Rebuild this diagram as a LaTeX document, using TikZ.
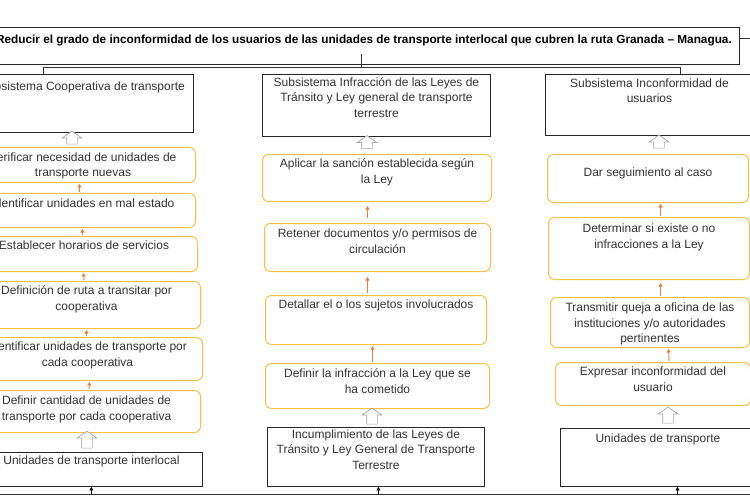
\documentclass[tikz,border=0pt]{standalone}
\usepackage{fontspec}
\setmainfont{Liberation Sans}
\usetikzlibrary{arrows.meta, shapes.arrows, calc}

\definecolor{boxyellow}{HTML}{F7C244}
\definecolor{arroworange}{HTML}{ED7D31}
\definecolor{hollowgray}{HTML}{A6A6A6}
\definecolor{txtgray}{HTML}{333333}

% text set at the top of a fixed-size box
\newcommand{\tb}[4][13pt]{\parbox[c][#3][t]{#2}{\centering\rule{0pt}{#1}#4\par}}

\begin{document}
\begin{tikzpicture}[
        x=1pt, y=-1pt,
        font=\fontsize{12}{15.5}\selectfont,
        text=txtgray,
        blackbox/.style={draw=black!85, line width=0.9pt, inner sep=0pt, anchor=north west},
        ybox/.style={draw=boxyellow, line width=1pt, rounded corners=6pt, inner sep=0pt, anchor=north west},
        hollow/.style={single arrow, rotate=90, draw=hollowgray, fill=white, line width=0.7pt,
            inner xsep=0pt, inner ysep=5pt, minimum width=19pt, minimum height=#1,
            single arrow head extend=4.5pt, single arrow tip angle=110},
        oarr/.style={-{Triangle[length=3.5pt,width=4pt]}, draw=arroworange, line width=0.9pt,
            shorten <=1pt, shorten >=1pt},
        barr/.style={-{Triangle[length=3.5pt,width=4pt]}, line width=0.8pt},
        bus/.style={draw=black!80, line width=0.8pt}
    ]
        \useasboundingbox (0,0) rectangle (750,500);
        \clip (0,0) rectangle (750,500);

        % goal
        \node[blackbox] (goal) at (-12,27) {\tb[16pt]{751pt}{37pt}{\fontsize{11.8}{14}\selectfont\bfseries\color{black}Reducir el grado de inconformidad de los usuarios de las unidades de transporte interlocal que cubren la ruta Granada -- Managua.}};

        % subsystems
        \node[blackbox] (coop) at (-29,74) {\tb[16pt]{222pt}{58pt}{Subsistema Cooperativa de transporte}};
        \node[blackbox] (infr) at (262,74) {\tb[12pt]{228pt}{62pt}{Subsistema Infracción de las Leyes de\\ Tránsito y Ley general de transporte\\ terrestre}};
        \node[blackbox] (inco) at (545,74) {\tb[13pt]{208pt}{61pt}{Subsistema Inconformidad de\\ usuarios}};

        % cooperativa
        \node[ybox] (verif) at (-30,147) {\tb[14pt]{225pt}{35pt}{Verificar necesidad de unidades de\\ transporte nuevas}};
        \node[ybox] (malest) at (-30,193) {\tb[14pt]{225pt}{34pt}{Identificar unidades en mal estado}};
        \node[ybox] (horar) at (-30,236) {\tb[13pt]{227pt}{35pt}{Establecer horarios de servicios}};
        \node[ybox] (ruta) at (-28,281) {\tb[13pt]{228pt}{47pt}{Definición de ruta a transitar por\\ cooperativa}};
        \node[ybox] (idcoop) at (-28,337) {\tb[13pt]{230pt}{43pt}{Identificar unidades de transporte por\\ cada cooperativa}};
        \node[ybox] (cant) at (-28,390) {\tb[14pt]{228pt}{42pt}{Definir cantidad de unidades de\\ transporte por cada cooperativa}};
        \node[blackbox] (interl) at (-20,452) {\tb[12pt]{222pt}{34pt}{Unidades de transporte interlocal}};

        % infraccion
        \node[ybox] (sanc) at (262,154) {\tb[13pt]{229pt}{47pt}{Aplicar la sanción establecida según\\ la Ley}};
        \node[ybox] (reten) at (264,223) {\tb[14pt]{226pt}{48pt}{Retener documentos y/o permisos de\\ circulación}};
        \node[ybox] (sujet) at (265,295) {\tb[13pt]{221pt}{49pt}{Detallar el o los sujetos involucrados}};
        \node[ybox] (defin) at (265,363) {\tb[14pt]{224pt}{45pt}{Definir la infracción a la Ley que se\\ ha cometido}};
        \node[blackbox] (incum) at (267,427) {\tb[11pt]{217pt}{59pt}{Incumplimiento de las Leyes de\\ Tránsito y Ley General de Transporte\\ Terrestre}};

        % inconformidad
        \node[ybox] (segui) at (547,154) {\tb[22pt]{201pt}{48pt}{Dar seguimiento al caso}};
        \node[ybox] (deter) at (548,217) {\tb[15pt]{201pt}{62pt}{Determinar si existe o no\\ infracciones a la Ley}};
        \node[ybox] (trans) at (550,297) {\tb[14pt]{199pt}{50pt}{Transmitir queja a oficina de las\\ instituciones y/o autoridades\\ pertinentes}};
        \node[ybox] (expre) at (555,362) {\tb[13pt]{195pt}{43pt}{Expresar inconformidad del\\ usuario}};
        \node[blackbox] (unid) at (560,428) {\tb[14pt]{195pt}{58pt}{Unidades de transporte}};

        % hollow arrows
        \node[hollow=13pt] (hcoop) at (72,139.5) {};
        \node[hollow=13pt] (hinfr) at (367,144) {};
        \node[hollow=13pt] (hinco) at (659,143.5) {};
        \node[hollow=17pt] (hinterl) at (87,441.5) {};
        \node[hollow=16pt] (hincum) at (372,418) {};
        \node[hollow=16pt] (hunid) at (668,417) {};

        % orange steps
        \draw[oarr] ([xshift=-3.5]malest.north) -- ([xshift=-3.5]verif.south);
        \draw[oarr] ([xshift=-1.5]horar.north) -- ([xshift=-0.5]malest.south);
        \draw[oarr] ([xshift=-2.5]ruta.north) -- ([xshift=-0.5]horar.south);
        \draw[oarr] ([xshift=-1]idcoop.north) -- (ruta.south);
        \draw[oarr] ([xshift=2.5]cant.north) -- ([xshift=2]idcoop.south);
        \draw[oarr, shorten <=5pt, shorten >=4pt] ([xshift=-10]reten.north) -- ([xshift=-9.5]sanc.south);
        \draw[oarr, shorten <=2pt, shorten >=5pt] ([xshift=-8.5]sujet.north) -- ([xshift=-10]reten.south);
        \draw[oarr] ([xshift=-5]defin.north) -- ([xshift=-3.5]sujet.south);
        \draw[oarr] ([xshift=11.5]deter.north) -- ([xshift=12.5]segui.south);
        \draw[oarr, shorten >=3pt] ([xshift=10.5]trans.north) -- ([xshift=11.5]deter.south);
        \draw[oarr] ([xshift=16]expre.north) -- ([xshift=18.5]trans.south);

        % top bus
        \coordinate (tbusL) at (43,67);
        \coordinate (tbusR) at (680,67);
        \coordinate (tbusM) at (361,67);
        \coordinate (stem) at (361,54);
        \coordinate (stub) at (750,38);
        \draw[bus] (tbusL) -- (tbusR);
        \draw[bus] (tbusL) -- (tbusL |- coop.north);
        \draw[bus] (tbusR) -- (tbusR |- inco.north);
        \draw[bus] (stem) -- (tbusM);
        \draw[bus] (goal.east |- stub) -- (stub);

        % bottom bus
        \coordinate (busL) at (0,494);
        \coordinate (busR) at (750,494);
        \draw[bus] (busL) -- (busR);
        \draw[barr] (interl.south |- busL) -- (interl.south);
        \draw[barr] ([xshift=2.5, yshift=-8]incum.south) -- ([xshift=2.5]incum.south);
        \draw[barr] ([xshift=19.5, yshift=-8]unid.south) -- ([xshift=19.5]unid.south);
    \end{tikzpicture}
\end{document}
